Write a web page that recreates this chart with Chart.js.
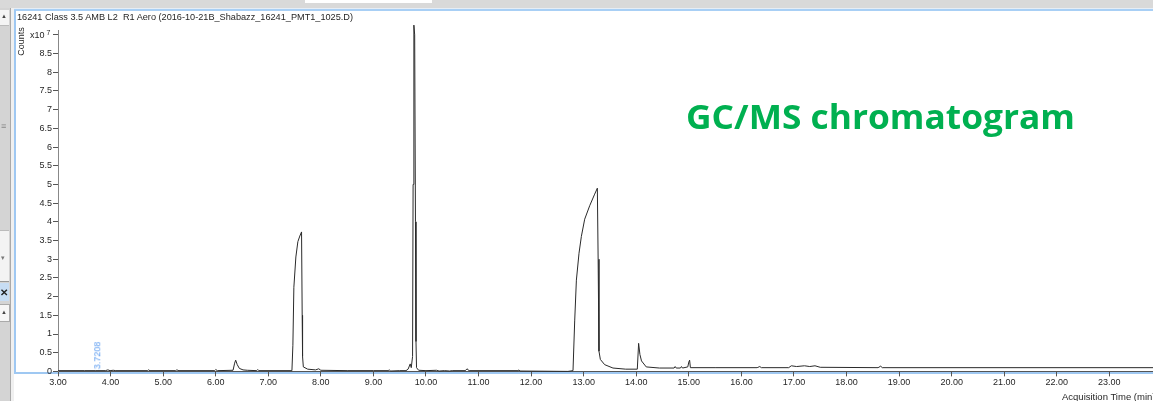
<!DOCTYPE html>
<html>
<head>
<meta charset="utf-8">
<script src="https://cdn.jsdelivr.net/npm/chart.js@4.4.1/dist/chart.umd.min.js"></script>
<style>
  html, body { margin: 0; padding: 0; width: 1153px; height: 401px; overflow: hidden; background: #fff; font-family: "Liberation Sans", Arial, sans-serif; }
  #chart { position: absolute; left: 0; top: 0; z-index: 2; }
  .txt { position: absolute; z-index: 3; white-space: nowrap; color: #262626; font-size: 9px; line-height: 1; }
  .chrome { position: absolute; z-index: 1; }
</style>
</head>
<body>
<!-- window chrome around the plot -->
<div class="chrome" style="left:0;top:0;width:1153px;height:8px;background:#d9d9d9"></div>
<div class="chrome" style="left:305px;top:0;width:127px;height:3px;background:#fff"></div>
<div class="chrome" style="left:0;top:8px;width:1153px;height:1px;background:#e6edf5"></div>
<div class="chrome" style="left:14px;top:9px;width:1139px;height:2px;background:#a8cff5"></div>
<div class="chrome" style="left:0;top:8px;width:10px;height:393px;background:#d4d4d4"></div>
<div class="chrome" style="left:10px;top:8px;width:1px;height:393px;background:#a9a9a9"></div>
<div class="chrome" style="left:11px;top:8px;width:3px;height:393px;background:#f0f0f0"></div>
<div class="chrome" style="left:0;top:10px;width:9px;height:15px;background:#f4f4f4;border-bottom:1px solid #bbb"></div>
<div class="txt" style="left:1px;top:13px;font-size:6px;color:#444">&#9650;</div>
<div class="txt" style="left:1px;top:122px;font-size:9px;color:#888">&#8801;</div>
<div class="chrome" style="left:0;top:230px;width:9px;height:50px;background:#f3f3f3;border-top:1px solid #bbb;border-bottom:1px solid #999"></div>
<div class="txt" style="left:1px;top:254px;font-size:7px;color:#777">&#9662;</div>
<div class="chrome" style="left:0;top:283px;width:9px;height:18px;background:#c7ddf4"></div>
<div class="txt" style="left:0px;top:288px;font-size:10px;font-weight:bold;color:#222">&#10005;</div>
<div class="chrome" style="left:0;top:304px;width:9px;height:16px;background:#f6f6f6;border:1px solid #aaa;border-left:none"></div>
<div class="txt" style="left:1px;top:309px;font-size:6px;color:#444">&#9650;</div>
<!-- blue plot frame -->
<div class="chrome" style="left:14px;top:10px;width:2px;height:364px;background:#9fc8f2"></div>
<div class="chrome" style="left:14px;top:372px;width:1139px;height:2px;background:#9fc8f2"></div>

<canvas id="chart" width="1153" height="401"></canvas>

<div class="txt" id="title" style="left:17px;top:13px">16241 Class 3.5 AMB L2&nbsp; R1 Aero (2016-10-21B_Shabazz_16241_PMT1_1025.D)</div>
<div class="txt" style="left:7px;top:37px;transform:rotate(-90deg);transform-origin:center">Counts</div>
<div class="txt" style="left:30px;top:29px">x10<sup style="font-size:7px;vertical-align:3px">&nbsp;7</sup></div>
<div class="txt" style="left:84px;top:351px;color:#5c9cf0;transform:rotate(-90deg);transform-origin:center">3.7208</div>
<div class="txt" style="left:1062px;top:392px;font-size:9.5px">Acquisition Time (min)</div>
<div class="txt" id="green" style="left:686px;top:99px;font-family:'Open Sans',sans-serif;font-weight:bold;font-size:34px;color:#00b050">GC/MS chromatogram</div>

<script>
// retention time (min)
const times = [
  3.00, 3.50, 3.72, 3.90, 3.95, 3.99, 4.05, 4.10, 4.70, 4.72, 4.75, 5.24, 5.26, 5.30,
  5.98, 6.00, 6.03, 6.33, 6.36, 6.38, 6.41, 6.45, 6.52, 6.60, 6.78, 6.80, 6.82,
  7.45, 7.468, 7.487, 7.525, 7.563, 7.600, 7.633, 7.645, 7.652, 7.667, 7.75, 7.90, 7.96, 8.00,
  8.50, 9.00, 9.28, 9.30, 9.33, 9.50, 9.62, 9.66, 9.70, 9.72, 9.745, 9.755, 9.77, 9.785, 9.80, 9.81, 9.82, 9.86,
  10.00, 10.20, 10.25, 10.35, 10.45, 10.50, 10.75, 10.78, 10.82, 11.75, 11.77, 11.79,
  12.70, 12.797, 12.829, 12.861, 12.911, 12.956, 13.019, 13.114, 13.209, 13.260, 13.275, 13.291, 13.317, 13.399, 13.557, 13.80,
  14.02, 14.045, 14.07, 14.10, 14.19, 14.44, 14.72, 14.74, 14.76, 14.84, 14.86, 14.88, 14.98, 15.00, 15.015, 15.03,
  15.50, 16.30, 16.35, 16.38, 16.90, 16.95, 17.05, 17.20, 17.30, 17.40, 17.50, 18.60, 18.65, 18.68, 23.90
]
// counts, in units of 10^7
const counts = [
  0.02, 0.02, 0.02, 0.02, 0.04, 0.02, 0.03, 0.02, 0.02, 0.04, 0.02, 0.02, 0.04, 0.02,
  0.02, 0.05, 0.02, 0.03, 0.22, 0.30, 0.18, 0.08, 0.04, 0.03, 0.02, 0.05, 0.02,
  0.02, 0.70, 2.25, 3.06, 3.47, 3.62, 3.73, 1.50, 0.40, 0.12, 0.06, 0.04, 0.07, 0.03,
  0.02, 0.02, 0.02, 0.04, 0.01, 0.02, 0.02, 0.06, 0.20, 0.10, 0.40, 5.00, 9.26, 9.00, 4.00, 0.80, 0.10, 0.03,
  0.02, 0.03, 0.01, 0.02, 0.01, 0.02, 0.02, 0.07, 0.02, 0.02, 0.04, 0.01,
  0.00, 0.02, 1.35, 2.44, 3.16, 3.61, 4.07, 4.43, 4.74, 4.90, 3.00, 0.54, 0.32, 0.18, 0.09, 0.06,
  0.06, 0.75, 0.45, 0.28, 0.12, 0.09, 0.09, 0.13, 0.09, 0.09, 0.13, 0.09, 0.12, 0.25, 0.30, 0.10,
  0.10, 0.10, 0.13, 0.10, 0.10, 0.15, 0.13, 0.15, 0.13, 0.15, 0.11, 0.10, 0.14, 0.10, 0.10
]
const xMin = 3.00
const xMax = 23.83
const yMax = 9.13

const fontFam = '"Liberation Sans", Arial, sans-serif'

//Fit the texts to the widths seen in the picture
function fitWidth(id, target) {
  const el = document.getElementById(id)
  const w = el.getBoundingClientRect().width
  el.style.transformOrigin = 'left top'
  el.style.transform = 'scaleX(' + (target / w) + ')'
}
fitWidth('title', 336)
fitWidth('green', 389)

const points = times.map((t, i) => ({ x: t, y: counts[i] }))

new Chart(document.getElementById('chart').getContext('2d'), {
  type: 'line',
  data: {
    datasets: [{
      data: points,
      borderColor: '#2a2a2a',
      borderWidth: 1,
      pointRadius: 0,
      tension: 0,
      clip: false
    }]
  },
  options: {
    responsive: false,
    animation: false,
    devicePixelRatio: 1,
    layout: { padding: { left: 0, top: 30, right: 0, bottom: 0 } },
    plugins: { legend: { display: false }, tooltip: { enabled: false } },
    scales: {
      x: {
        type: 'linear',
        min: xMin,
        max: xMax,
        ticks: {
          stepSize: 1,
          includeBounds: false,
          autoSkip: false,
          maxRotation: 0,
          padding: 1,
          color: '#262626',
          font: { size: 9, family: fontFam },
          callback: (v) => Number(v).toFixed(2)
        },
        grid: { drawOnChartArea: false, tickLength: 5, color: '#555' },
        border: { color: '#555' },
        afterFit: (s) => { s.height = 29.6 }
      },
      y: {
        min: 0,
        max: yMax,
        ticks: {
          stepSize: 0.5,
          includeBounds: false,
          padding: 1,
          color: '#262626',
          font: { size: 9, family: fontFam },
          callback: (v) => v >= 9 ? '' : String(v)
        },
        grid: { drawOnChartArea: false, tickLength: 5, color: '#555' },
        border: { color: '#888' },
        afterFit: (s) => { s.width = 58 }
      }
    }
  }
})
</script>
</body>
</html>
